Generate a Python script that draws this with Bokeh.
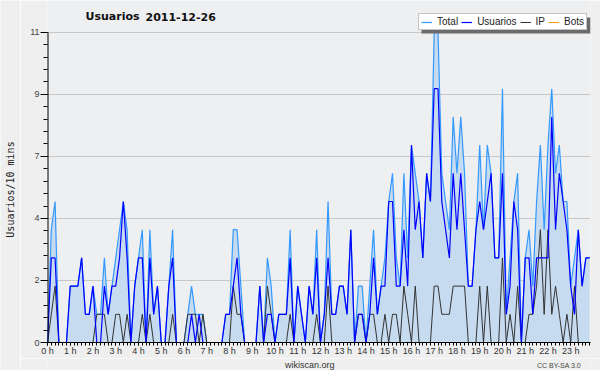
import math
from bokeh.plotting import figure
from bokeh.layouts import row, column
from bokeh.models import (Range1d, FixedTicker, PrintfTickFormatter, NumeralTickFormatter,
                          Legend, LegendItem, Label, BoxAnnotation, ColumnDataSource)
from bokeh.embed import file_html
from bokeh.resources import INLINE

title_parts = ["Usuarios", "2011-12-26"]
y_label_text = "Usuarios/10 mins"
footer_text = "wikiscan.org"
license_text = "CC BY-SA 3.0"
series_names = ["Total", "Usuarios", "IP", "Bots"]

# one value per 10-minute slot (144 slots)
slot_minutes = list(range(0, 1440, 10))

total = [0, 4, 5, 0, 0, 0, 2, 2, 2, 3, 1, 1,
         2, 1, 1, 3, 1, 2, 3, 4, 5, 4, 0, 2,
         3, 4, 0, 4, 1, 2, 0, 0, 2, 4, 0, 0,
         0, 1, 2, 1, 1, 1, 0, 0, 0, 0, 0, 1,
         1, 4, 4, 2, 0, 0, 0, 0, 2, 0, 3, 2,
         0, 1, 1, 1, 4, 0, 2, 1, 0, 2, 1, 4,
         0, 1, 5, 1, 1, 2, 2, 1, 4, 0, 2, 2,
         0, 2, 4, 1, 2, 3, 5, 6, 3, 2, 6, 3,
         7, 6, 5, 3, 6, 5, 11, 11, 6, 5, 4, 8,
         6, 8, 6, 2, 2, 4, 7, 4, 7, 6, 3, 3,
         9, 1, 3, 5, 6, 0, 3, 4, 2, 5, 7, 4,
         7, 9, 6, 7, 5, 5, 2, 3, 4, 2, 3, 3]

usuarios = [0, 3, 3, 0, 0, 0, 2, 2, 2, 3, 1, 1,
            2, 0, 0, 2, 1, 2, 2, 3, 5, 3, 0, 2,
            3, 3, 0, 3, 1, 2, 0, 0, 2, 3, 0, 0,
            0, 0, 1, 0, 1, 0, 0, 0, 0, 0, 0, 1,
            1, 2, 3, 1, 0, 0, 0, 0, 2, 0, 1, 1,
            0, 1, 1, 1, 3, 0, 2, 1, 0, 2, 1, 3,
            0, 1, 3, 1, 1, 2, 2, 1, 4, 0, 1, 1,
            0, 1, 3, 1, 2, 2, 5, 5, 2, 2, 4, 2,
            7, 4, 5, 3, 6, 5, 9, 9, 5, 4, 3, 6,
            4, 6, 4, 2, 2, 4, 5, 4, 5, 6, 3, 3,
            6, 1, 2, 5, 4, 0, 3, 3, 1, 3, 3, 3,
            3, 8, 4, 6, 5, 4, 2, 1, 4, 2, 3, 3]

ip = [0, 1, 2, 0, 0, 0, 0, 0, 0, 0, 0, 0,
      0, 1, 1, 1, 0, 0, 1, 1, 0, 1, 0, 0,
      0, 1, 0, 1, 0, 0, 0, 0, 0, 1, 0, 0,
      0, 1, 1, 1, 0, 1, 0, 0, 0, 0, 0, 0,
      0, 2, 1, 1, 0, 0, 0, 0, 0, 0, 2, 1,
      0, 0, 0, 0, 1, 0, 0, 0, 0, 0, 0, 1,
      0, 0, 2, 0, 0, 0, 0, 0, 0, 0, 1, 1,
      0, 1, 1, 0, 0, 1, 0, 1, 1, 0, 2, 1,
      0, 2, 0, 0, 0, 0, 2, 2, 1, 1, 1, 2,
      2, 2, 2, 0, 0, 0, 2, 0, 2, 0, 0, 0,
      3, 0, 1, 0, 2, 0, 0, 1, 1, 2, 4, 1,
      4, 1, 2, 1, 0, 1, 0, 2, 0, 0, 0, 0]

bots = [0, 0, 0, 0, 0, 0, 0, 0, 0, 0, 0, 0,
        0, 0, 0, 0, 0, 0, 0, 0, 0, 0, 0, 0,
        0, 0, 0, 0, 0, 0, 0, 0, 0, 0, 0, 0,
        0, 0, 0, 0, 0, 0, 0, 0, 0, 0, 0, 0,
        0, 0, 0, 0, 0, 0, 0, 0, 0, 0, 0, 0,
        0, 0, 0, 0, 0, 0, 0, 0, 0, 0, 0, 0,
        0, 0, 0, 0, 0, 0, 0, 0, 0, 0, 0, 0,
        0, 0, 0, 0, 0, 0, 0, 0, 0, 0, 0, 0,
        0, 0, 0, 0, 0, 0, 0, 0, 0, 0, 0, 0,
        0, 0, 0, 0, 0, 0, 0, 0, 0, 0, 0, 0,
        0, 0, 0, 0, 0, 0, 0, 0, 0, 0, 0, 0,
        0, 0, 0, 0, 0, 0, 0, 0, 0, 0, 0, 0]

hour_ticks = list(range(24))
y_max = 11
y_ticks = [0, 2.2, 4.4, 6.6, 8.8, 11]

hours = [m / 60 for m in slot_minutes]
minor_x = hours
minor_y = [k * y_max / 25 for k in range(26)]

BG = "#efefef"
PLOT_BG = "#eeeff1"

src = ColumnDataSource(dict(x=hours, total=total, usuarios=usuarios, ip=ip, bots=bots))

# frame spans from the canvas top down to the x axis so title/legend are drawn inside it;
# y range chosen so that the value 11 sits 32px below the top.
frame_h = 344
y_top = y_max * frame_h / 312

p = figure(width=580, height=358, output_backend="svg", toolbar_location=None,
           x_range=Range1d(0, 23.87), y_range=Range1d(0, y_top), title=None,
           min_border_left=27, min_border_right=10, min_border_top=0, min_border_bottom=14,
           background_fill_color=PLOT_BG, border_fill_color=BG,
           outline_line_color=None)

xa = p.xaxis[0]
xa.ticker = FixedTicker(ticks=hour_ticks, minor_ticks=minor_x)
xa.formatter = PrintfTickFormatter(format="%d h")
xa.major_tick_in = 0
xa.major_tick_out = 3
xa.minor_tick_in = 0
xa.minor_tick_out = 3
xa.axis_line_color = "black"
xa.major_tick_line_color = "black"
xa.minor_tick_line_color = "black"
xa.major_label_text_font = "Liberation Sans"
xa.major_label_text_font_size = "9px"
xa.major_label_text_color = "#333333"
xa.major_label_standoff = 0

ya = p.yaxis[0]
ya.ticker = FixedTicker(ticks=y_ticks, minor_ticks=minor_y)
ya.formatter = NumeralTickFormatter(format="0")
ya.major_tick_in = 0
ya.major_tick_out = 7
ya.minor_tick_in = 0
ya.minor_tick_out = 4
ya.axis_line_color = None
ya.major_tick_line_color = "black"
ya.minor_tick_line_color = "black"
ya.major_label_text_font = "Liberation Sans"
ya.major_label_text_font_size = "9px"
ya.major_label_text_color = "#444444"
ya.major_label_standoff = 1

p.xgrid.visible = False
p.ygrid.grid_line_color = "#c8c8c8"
p.ygrid.grid_line_width = 1

# data glyphs
p.varea(x="x", y1=0, y2="total", source=src, fill_color="#c6dbef", fill_alpha=1)
r_bots = p.line("x", "bots", source=src, line_color="#ff9900", line_width=1)
r_total = p.line("x", "total", source=src, line_color="#3399ff", line_width=1.2)
r_ip = p.line("x", "ip", source=src, line_color="#333333", line_width=1)
r_us = p.line("x", "usuarios", source=src, line_color="#0000ff", line_width=1.2)

# y axis line only over the value range 0..11
p.segment(x0=[0], y0=[0], x1=[0], y1=[y_max], line_color="black", line_width=2)

# legend shadow + legend just above the top gridline
shadow = BoxAnnotation(left=374, right=543, bottom=309, top=325,
                       left_units="screen", right_units="screen",
                       bottom_units="screen", top_units="screen",
                       fill_color="#6b6b6b", fill_alpha=1, line_color=None)
p.add_layout(shadow)

legend = Legend(items=[LegendItem(label=series_names[0], renderers=[r_total]),
                       LegendItem(label=series_names[1], renderers=[r_us]),
                       LegendItem(label=series_names[2], renderers=[r_ip]),
                       LegendItem(label=series_names[3], renderers=[r_bots])],
                orientation="horizontal", location=(371, 312),
                background_fill_color="white", background_fill_alpha=1,
                border_line_color="#8a8a8a", border_line_width=1,
                padding=2, margin=0, spacing=3, glyph_width=11, glyph_height=10,
                label_standoff=5, label_width=0, label_height=10,
                label_text_font="Liberation Sans",
                label_text_font_size="10px", label_text_color="#222222")
p.add_layout(legend)

title_x = [38, 98]
for tx, part in zip(title_x, title_parts):
    p.add_layout(Label(x=tx, y=326, x_units="screen", y_units="screen", text=part,
                       text_font="DejaVu Sans", text_font_style="bold",
                       text_font_size="11px", text_baseline="middle",
                       text_color="#111111"))

# left strip with the rotated y-axis title
left = figure(width=20, height=370, output_backend="svg", toolbar_location=None,
              x_axis_type=None, y_axis_type=None, x_range=Range1d(0, 20),
              y_range=Range1d(0, 370), min_border=0, outline_line_color=None,
              background_fill_color=BG, border_fill_color=BG)
left.add_layout(Label(x=10, y=181, text=y_label_text, angle=math.pi / 2,
                      text_align="center", text_baseline="middle",
                      text_font="DejaVu Sans Mono", text_font_size="10px",
                      text_color="#222222"))

# footer strip under the x axis
foot = figure(width=580, height=12, output_backend="svg", toolbar_location=None,
              x_axis_type=None, y_axis_type=None, x_range=Range1d(0, 580),
              y_range=Range1d(0, 12), min_border=0, outline_line_color=None,
              background_fill_color=BG, border_fill_color=BG)
foot.add_layout(Label(x=280, y=5.5, text=footer_text, text_align="center",
                      text_baseline="alphabetic", text_font="Liberation Sans",
                      text_font_size="9px", text_color="#333333"))
foot.add_layout(Label(x=570, y=5.5, text=license_text, text_align="right",
                      text_baseline="alphabetic", text_font="Liberation Sans",
                      text_font_size="7px", text_color="#444444"))

layout = row(left, column(p, foot))

open("out.html", "w").write(file_html(layout, INLINE))
